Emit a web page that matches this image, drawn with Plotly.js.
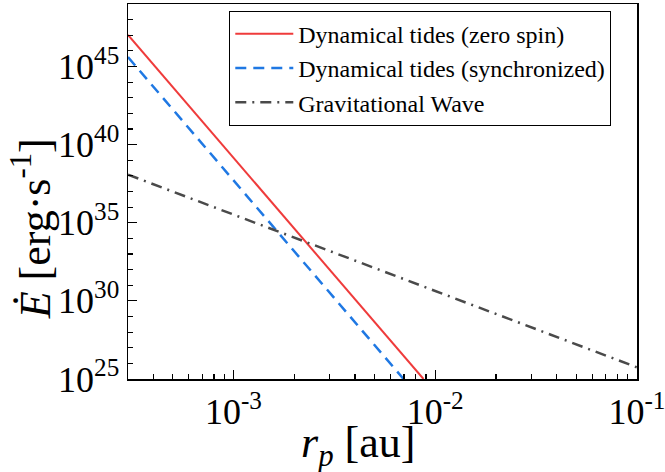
<!DOCTYPE html>
<html>
<head>
<meta charset="utf-8">
<script src="https://cdn.plot.ly/plotly-3.0.1.min.js"></script>
<style>html,body{margin:0;padding:0;background:#fff;}#chart{width:665px;height:472px;}</style>
</head>
<body>
<div id="chart"></div>
<script>
// Data (log-log straight lines, endpoints)
const rpZeroSpin = [3e-4, 8.75e-3];
const eZeroSpin = [1.05e47, 1e25];
const rpSync = [3e-4, 6.97e-3];
const eSync = [4.0e45, 1e25];
const rpGW = [3e-4, 0.1];
const eGW = [1.2e38, 5.6e25];

const seriesNames = ["Dynamical tides (zero spin)", "Dynamical tides (synchronized)", "Gravitational Wave"];

const xTickVals = [1e-3, 1e-2, 1e-1];
const xTickText = ["10<sup>-3</sup>", "10<sup>-2</sup>", "10<sup>-1</sup>"];
const yTickVals = [1e25, 1e30, 1e35, 1e40, 1e45];
const yTickText = ["10<sup>25</sup>", "10<sup>30</sup>", "10<sup>35</sup>", "10<sup>40</sup>", "10<sup>45</sup>"];

const xTitle = "<i>r</i><sub><i>p</i></sub> [au]";
const yTitle = "<i>Ė</i> [erg·s<sup>-1</sup>]";

// minor tick positions
const xMinor = [];
[1e-4, 1e-3, 1e-2].forEach(d => { for (let k = 2; k <= 9; k++) xMinor.push(k * d); });
const yMinor = [];
for (let p = 26; p <= 48; p++) { if (p % 5 !== 0) yMinor.push(Math.pow(10, p)); }

const FONT = "'Liberation Serif', 'Times New Roman', serif";

const traces = [
  {x: rpZeroSpin, y: eZeroSpin, name: seriesNames[0], mode: "lines",
   line: {color: "#ef3b3b", width: 2}},
  {x: rpSync, y: eSync, name: seriesNames[1], mode: "lines",
   line: {color: "#1f78e3", width: 2.5, dash: "11px,7px"}},
  {x: rpGW, y: eGW, name: seriesNames[2], mode: "lines",
   line: {color: "#4a4a4a", width: 2.5, dash: "11px,6px,2px,6px"}}
];

const layout = {
  width: 665, height: 472,
  margin: {l: 128, r: 28, t: 4, b: 93},
  paper_bgcolor: "#fff", plot_bgcolor: "#fff",
  font: {family: FONT, color: "#000"},
  showlegend: true,
  legend: {
    x: 0.199, y: 0.982, xanchor: "left", yanchor: "top",
    bordercolor: "#000", borderwidth: 1, bgcolor: "#fff",
    font: {family: FONT, size: 24, color: "#000"},
    itemwidth: 58,
    tracegroupgap: 0
  },
  xaxis: {
    type: "log",
    range: [Math.log10(3e-4), -0.9995],
    showgrid: false, zeroline: false,
    showline: true, linecolor: "#000", linewidth: 1.5, mirror: true,
    ticks: "inside", ticklen: 9, tickwidth: 1.2, tickcolor: "#000",
    tickmode: "array", tickvals: xTickVals, ticktext: xTickText,
    tickfont: {family: FONT, size: 36, color: "#000"},
    ticklabeloverflow: "allow",
    minor: {tickmode: "array", tickvals: xMinor, ticks: "inside", ticklen: 5, tickwidth: 1.2, tickcolor: "#000", showgrid: false},
    title: {text: ""}
  },
  yaxis: {
    type: "log",
    range: [25, 49],
    showgrid: false, zeroline: false,
    showline: true, linecolor: "#000", linewidth: 1.5, mirror: true,
    ticks: "inside", ticklen: 9, tickwidth: 1.2, tickcolor: "#000",
    tickmode: "array", tickvals: yTickVals, ticktext: yTickText,
    tickfont: {family: FONT, size: 36, color: "#000"},
    minor: {tickmode: "array", tickvals: yMinor, ticks: "inside", ticklen: 5, tickwidth: 1.2, tickcolor: "#000", showgrid: false},
    title: {text: ""}
  },
  annotations: [
    {text: xTitle, xref: "paper", yref: "paper", x: 0.4525, y: -0.176,
     xanchor: "center", yanchor: "middle", showarrow: false,
     font: {family: FONT, size: 44, color: "#000"}},
    {text: yTitle, xref: "paper", yref: "paper", x: -0.19, y: 0.40,
     xanchor: "center", yanchor: "middle", showarrow: false, textangle: -90,
     font: {family: FONT, size: 44, color: "#000"}}
  ]
};

Plotly.newPlot("chart", traces, layout, {displayModeBar: false, staticPlot: true});
</script>
</body>
</html>
